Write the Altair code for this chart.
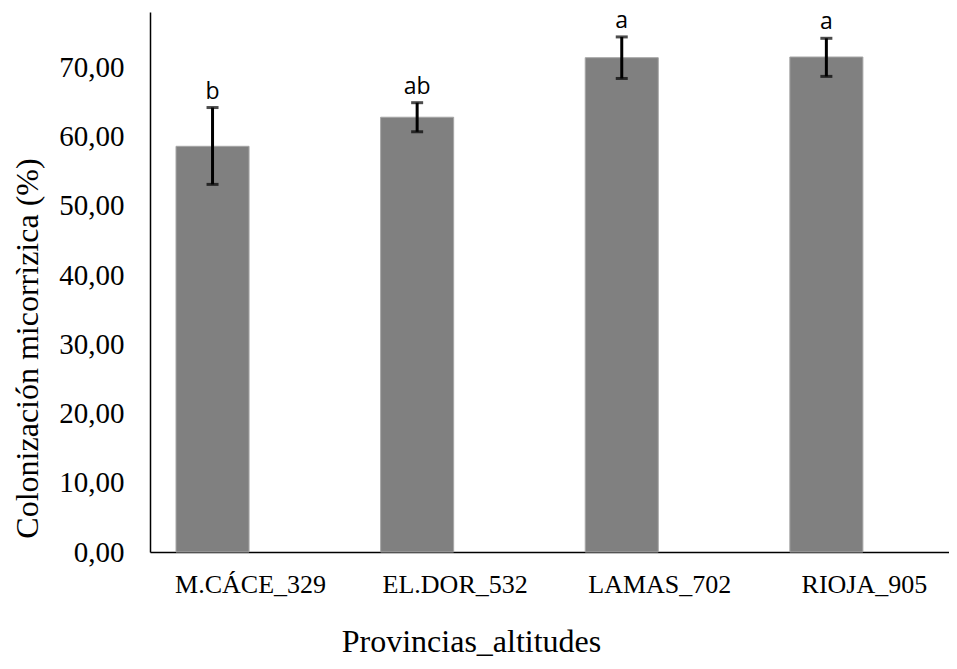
import altair as alt
import pandas as pd

categories = ["M.CÁCE_329", "EL.DOR_532", "LAMAS_702", "RIOJA_905"]
means = [58.6, 62.8, 71.4, 71.5]
err_low = [53.1, 60.7, 68.4, 68.7]
err_high = [64.2, 64.9, 74.4, 74.2]
letters = ["b", "ab", "a", "a"]

df = pd.DataFrame({
    "cat": categories,
    "mean": means,
    "lo": err_low,
    "hi": err_high,
    "letter": letters,
})

xscale = alt.Scale(domain=categories, paddingInner=0.643, paddingOuter=0.274, align=0.232)
yscale = alt.Scale(domain=[0, 78], nice=False)

x = alt.X("cat:N", scale=xscale, sort=categories, axis=alt.Axis(
    title="Provincias_altitudes", labelAngle=0, ticks=False, domainColor="black",
    domainWidth=1.5, labelFont="Liberation Serif", labelFontSize=26, labelColor="black",
    labelPadding=19, labelOffset=38, titleFont="Liberation Serif", titleFontSize=32,
    titleFontWeight="normal", titleColor="black", titleX=321, titleY=99,
    titleBaseline="alphabetic", titleAlign="center"))

y = alt.Y("mean:Q", scale=yscale, axis=alt.Axis(
    title="Colonización micorrìzica (%)", values=[0, 10, 20, 30, 40, 50, 60, 70],
    labelExpr="replace(format(datum.value, '.2f'), '.', ',')", grid=False, ticks=False,
    domainColor="black", domainWidth=1.5, labelFont="Liberation Serif", labelFontSize=29,
    labelColor="black", labelPadding=26, titleFont="Liberation Serif", titleFontSize=32,
    titleFontWeight="normal", titleColor="black", titleX=-113, titleY=336,
    titleBaseline="alphabetic", titleAlign="center", titleAngle=270))

bars = alt.Chart(df).mark_bar(color="#808080", stroke="#a6a6a6", strokeWidth=1).encode(x=x, y=y)

rules = alt.Chart(df).mark_rule(color="black", strokeWidth=3).encode(
    x=alt.X("cat:N", scale=xscale, sort=categories),
    y=alt.Y("lo:Q", scale=yscale),
    y2="hi:Q",
)
caps_lo = alt.Chart(df).mark_tick(color="black", thickness=3, size=12, orient="horizontal").encode(
    x=alt.X("cat:N", scale=xscale, sort=categories),
    y=alt.Y("lo:Q", scale=yscale),
)
caps_hi = alt.Chart(df).mark_tick(color="black", thickness=3, size=12, orient="horizontal").encode(
    x=alt.X("cat:N", scale=xscale, sort=categories),
    y=alt.Y("hi:Q", scale=yscale),
)
text = alt.Chart(df).mark_text(font="Open Sans", fontSize=23, color="black",
                                baseline="bottom", dy=-4).encode(
    x=alt.X("cat:N", scale=xscale, sort=categories),
    y=alt.Y("hi:Q", scale=yscale),
    text="letter:N",
)

chart = alt.layer(bars, rules, caps_lo, caps_hi, text).properties(
    width=799, height=540,
    autosize=alt.AutoSizeParams(type="none"),
    padding={"left": 142, "top": 4, "right": 0, "bottom": 107},
).configure(background="white").configure_view(stroke=None)

chart.save("out.html", embed_options={"renderer": "svg", "actions": False})
